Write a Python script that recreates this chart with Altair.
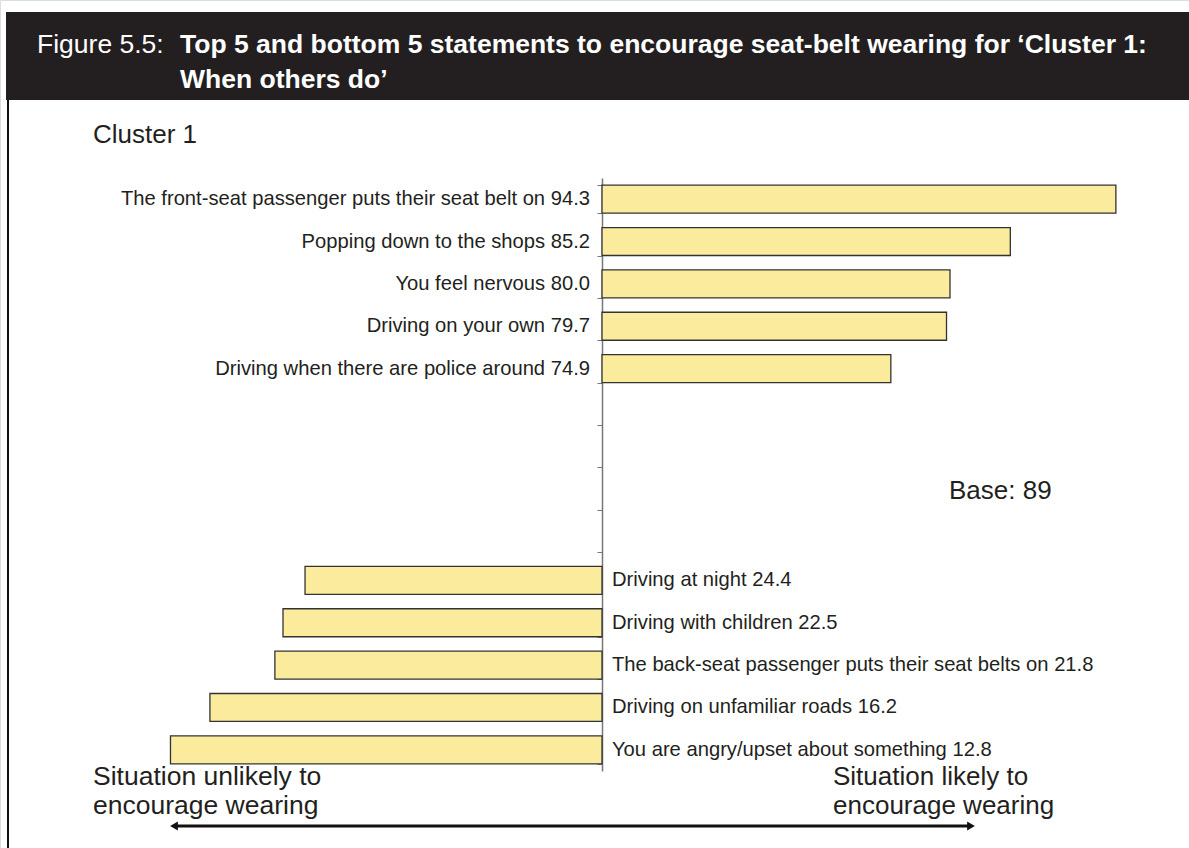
import altair as alt
import pandas as pd

# ---- data ----
top_labels = [
    "The front-seat passenger puts their seat belt on",
    "Popping down to the shops",
    "You feel nervous",
    "Driving on your own",
    "Driving when there are police around",
]
top_values = [94.3, 85.2, 80.0, 79.7, 74.9]

bottom_labels = [
    "Driving at night",
    "Driving with children",
    "The back-seat passenger puts their seat belts on",
    "Driving on unfamiliar roads",
    "You are angry/upset about something",
]
bottom_values = [24.4, 22.5, 21.8, 16.2, 12.8]

top_slots = [0, 1, 2, 3, 4]
bottom_slots = [9, 10, 11, 12, 13]
all_slots = list(range(14))
midpoint = 50

rows = []
for lab, val, s in zip(top_labels, top_values, top_slots):
    rows.append({"label": lab, "value": val, "slot": s, "side": "top",
                 "text": f"{lab} {val:.1f}"})
for lab, val, s in zip(bottom_labels, bottom_values, bottom_slots):
    rows.append({"label": lab, "value": val, "slot": s, "side": "bottom",
                 "text": f"{lab} {val:.1f}"})
df = pd.DataFrame(rows)

FONT = "Liberation Sans"
INK = "#231F20"

xscale = alt.Scale(domain=[0, 100], range=[22, 1182])
yscale = alt.Scale(domain=all_slots, range=[178, 771], paddingInner=0.34, paddingOuter=0.17)

base = alt.Chart(df)

bars = base.mark_bar(fill="#FBEB9C", stroke="#333333", strokeWidth=1.3).encode(
    x=alt.X("value:Q", scale=xscale, axis=None),
    x2=alt.datum(midpoint),
    y=alt.Y("slot:O", scale=yscale,
            axis=alt.Axis(orient="left", offset=-602, labels=False, title=None,
                          tickBand="extent", ticks=True, tickSize=5, tickColor="#777777",
                          domainColor="#777777", domainWidth=1.5, grid=False)),
)

top_text = base.transform_filter(alt.datum.side == "top").mark_text(
    align="right", baseline="middle", dx=-12, font=FONT, fontSize=20.2, color=INK
).encode(
    x=alt.datum(midpoint, scale=xscale),
    y=alt.Y("slot:O", scale=yscale),
    text="text:N",
)

bottom_text = base.transform_filter(alt.datum.side == "bottom").mark_text(
    align="left", baseline="middle", dx=10, font=FONT, fontSize=20.2, color=INK
).encode(
    x=alt.datum(midpoint, scale=xscale),
    y=alt.Y("slot:O", scale=yscale),
    text="text:N",
)

one = alt.Chart(pd.DataFrame({"a": [0]}))

header = one.mark_rect(color=INK).encode(
    x=alt.value(6), x2=alt.value(1189), y=alt.value(12), y2=alt.value(100)
)
border = one.mark_rule(color="#111111", strokeWidth=2).encode(
    x=alt.value(8), y=alt.value(100), y2=alt.value(848)
)

def txt(s, x, y, size=26, weight="normal", color=INK, align="left"):
    return one.mark_text(text=s, align=align, baseline="middle", font=FONT,
                         fontSize=size, fontWeight=weight, color=color).encode(
        x=alt.value(x), y=alt.value(y))

title1a = txt("Figure 5.5:", 37, 45, size=26.5, color="white")
title1b = txt("Top 5 and bottom 5 statements to encourage seat-belt wearing for \u2018Cluster 1:",
              180, 45, size=26.5, weight="bold", color="white")
title2 = txt("When others do\u2019", 180, 80, size=26.5, weight="bold", color="white")

cluster = txt("Cluster 1", 93, 135)
base_note = txt("Base: 89", 949, 491)
left1 = txt("Situation unlikely to", 93, 777, size=26.5)
left2 = txt("encourage wearing", 93, 806, size=26.5)
right1 = txt("Situation likely to", 833, 777)
right2 = txt("encourage wearing", 833, 806)

arrow_line = one.mark_rule(color="#111111", strokeWidth=3).encode(
    x=alt.value(175), x2=alt.value(970), y=alt.value(826)
)
arrow_l = one.mark_point(shape="triangle-left", filled=True, color="#111111",
                         size=80, opacity=1).encode(x=alt.value(174), y=alt.value(826))
arrow_r = one.mark_point(shape="triangle-right", filled=True, color="#111111",
                         size=80, opacity=1).encode(x=alt.value(971), y=alt.value(826))

chart = alt.layer(
    header, border, bars, top_text, bottom_text,
    title1a, title1b, title2, cluster, base_note, left1, left2, right1, right2,
    arrow_line, arrow_l, arrow_r,
).properties(
    width=1189, height=848, padding=0, autosize=alt.AutoSizeParams(type="none")
).configure_view(stroke=None).configure(background="white")

chart.save("out.html", embed_options={"renderer": "svg", "actions": False})
